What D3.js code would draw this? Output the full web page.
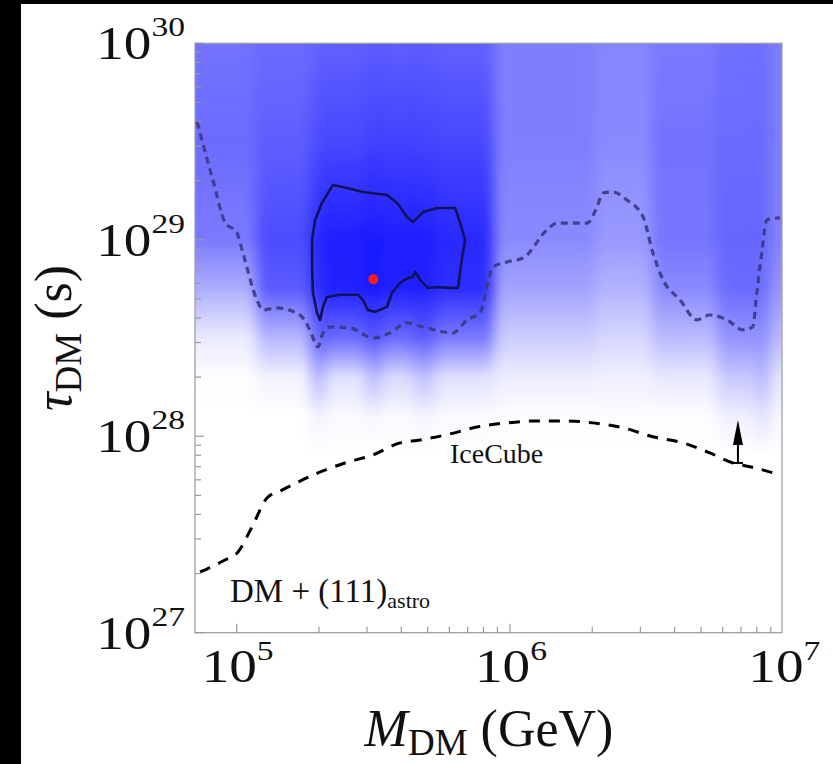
<!DOCTYPE html>
<html><head><meta charset="utf-8">
<script src="https://cdn.jsdelivr.net/npm/d3@7"></script>
<style>body{margin:0;background:#fff}svg{display:block}</style>
</head><body>
<script>
// ---------- DATA (log10 values) ----------
// heat-map mass bins, log10(M_DM / GeV)
const massBinEdgesLog = [4.846, 5.074, 5.271, 5.322, 5.475, 5.524, 5.652, 5.722, 5.938, 6.304, 6.523, 6.761, 6.907, 6.951, 7.0];
// lifetime levels, log10(tau / s)
const tauLevelsLog = [30, 29.5, 29, 28.75, 28.5, 28.3, 28.1, 27.9];
// posterior density (0..1) per mass bin at each lifetime level
const density = [
  [0.55, 0.58, 0.52, 0.32, 0.08, 0.01, 0.00, 0.00],
  [0.58, 0.63, 0.70, 0.64, 0.28, 0.05, 0.00, 0.00],
  [0.60, 0.70, 0.84, 0.82, 0.60, 0.30, 0.05, 0.00],
  [0.62, 0.72, 0.88, 0.87, 0.58, 0.12, 0.02, 0.00],
  [0.63, 0.74, 0.90, 0.90, 0.66, 0.28, 0.04, 0.00],
  [0.63, 0.74, 0.88, 0.87, 0.58, 0.15, 0.02, 0.00],
  [0.63, 0.73, 0.88, 0.87, 0.63, 0.25, 0.04, 0.00],
  [0.62, 0.72, 0.84, 0.82, 0.52, 0.12, 0.02, 0.00],
  [0.50, 0.50, 0.46, 0.36, 0.20, 0.07, 0.01, 0.00],
  [0.47, 0.46, 0.40, 0.30, 0.16, 0.06, 0.01, 0.00],
  [0.52, 0.55, 0.54, 0.46, 0.27, 0.09, 0.01, 0.00],
  [0.56, 0.58, 0.60, 0.58, 0.42, 0.22, 0.06, 0.00],
  [0.55, 0.57, 0.58, 0.56, 0.42, 0.28, 0.12, 0.00],
  [0.50, 0.50, 0.48, 0.40, 0.26, 0.10, 0.02, 0.00]
];
// dotted boundary curve
const boundMassLog = [4.855,4.913,4.957,5.001,5.023,5.074,5.096,5.147,5.232,5.268,5.297,5.316,5.341,5.415,5.499,5.561,5.623,5.682,5.792,5.843,5.890,5.938,5.989,6.048,6.135,6.172,6.282,6.318,6.340,6.377,6.428,6.487,6.523,6.560,6.622,6.684,6.731,6.794,6.852,6.888,6.903,6.921,6.940,6.988];
const boundTauLog  = [29.600,29.304,29.090,29.035,28.933,28.694,28.643,28.653,28.617,28.541,28.455,28.526,28.556,28.551,28.500,28.526,28.577,28.556,28.526,28.592,28.628,28.862,28.887,28.907,29.050,29.085,29.085,29.166,29.238,29.243,29.202,29.116,28.933,28.796,28.694,28.592,28.617,28.592,28.541,28.556,28.729,28.933,29.101,29.111];
// IceCube lower limit (dashed)
const iceMassLog = [4.866,4.957,5.005,5.056,5.111,5.166,5.232,5.297,5.396,5.499,5.598,5.671,5.781,5.879,5.989,6.099,6.209,6.304,6.414,6.523,6.633,6.731,6.816,6.896,6.988];
const iceTauLog  = [27.309,27.370,27.411,27.538,27.686,27.726,27.772,27.813,27.864,27.905,27.966,27.981,28.012,28.047,28.068,28.078,28.078,28.068,28.043,27.997,27.966,27.915,27.864,27.839,27.803];
// closed contour
const contourMassLog = [5.352,5.404,5.462,5.550,5.587,5.623,5.645,5.682,5.733,5.799,5.806,5.825,5.836,5.825,5.817,5.810,5.773,5.737,5.700,5.671,5.653,5.645,5.627,5.598,5.568,5.550,5.506,5.480,5.462,5.444,5.378,5.330,5.316,5.305,5.294,5.279,5.276,5.276,5.287,5.312];
const contourTauLog  = [29.279,29.264,29.243,29.228,29.187,29.116,29.090,29.141,29.162,29.162,29.136,29.050,29.000,28.913,28.832,28.755,28.755,28.760,28.755,28.796,28.837,28.811,28.806,28.781,28.730,28.659,28.633,28.643,28.694,28.720,28.720,28.709,28.659,28.592,28.628,28.730,28.862,29.000,29.101,29.187];
// best fit point
const bestFit = {massLog: 5.500, tauLog: 28.799};
// arrow (lower limit direction)
const arrowMassLog = 6.834;
const arrowTauLog = [27.864, 28.082];
// tick labels
const xTickExps = [5, 6, 7];
const yTickExps = [27, 28, 29, 30];

// ---------- LAYOUT ----------
const W = 833, H = 764;
const L = 195, R = 782, T = 43.3, B = 632.7;
const svg = d3.select("body").append("svg").attr("width", W).attr("height", H);
svg.append("rect").attr("width", W).attr("height", H).attr("fill", "#fff");
svg.append("rect").attr("x", 0).attr("y", 0).attr("width", 21).attr("height", H).attr("fill", "#000");
svg.append("rect").attr("x", 0).attr("y", 0).attr("width", W).attr("height", 4).attr("fill", "#000");

const x = d3.scaleLog().domain([7.04e4, 9.89e6]).range([L, R]);
const y = d3.scaleLog().domain([1e27, 1e30]).range([B, T]);
const p = v => Math.pow(10, v);

const defs = svg.append("defs");
defs.append("clipPath").attr("id", "plotClip").append("rect")
  .attr("x", L).attr("y", T).attr("width", R - L).attr("height", B - T);
const filt = defs.append("filter").attr("id", "hblur")
  .attr("filterUnits", "userSpaceOnUse")
  .attr("x", L - 60).attr("y", T - 60).attr("width", R - L + 120).attr("height", B - T + 120)
  .attr("color-interpolation-filters", "sRGB");
filt.append("feGaussianBlur").attr("stdDeviation", "6.5 2");

// gradients per mass bin
density.forEach((col, i) => {
  const g = defs.append("linearGradient").attr("id", "col" + i)
    .attr("gradientUnits", "userSpaceOnUse")
    .attr("x1", 0).attr("x2", 0).attr("y1", y(1e30)).attr("y2", y(1e27));
  col.forEach((a, j) => {
    g.append("stop")
      .attr("offset", (y(p(tauLevelsLog[j])) - y(1e30)) / (y(1e27) - y(1e30)))
      .attr("stop-color", "#0000ff").attr("stop-opacity", a);
  });
});

const nCol = density.length;
const heatOuter = svg.append("g").attr("clip-path", "url(#plotClip)");
const heat = heatOuter.append("g").attr("filter", "url(#hblur)");
heat.selectAll("rect").data(density).join("rect")
  .attr("x", (d, i) => x(p(massBinEdgesLog[i])) - (i === 0 ? 30 : 0))
  .attr("width", (d, i) => x(p(massBinEdgesLog[i + 1])) - x(p(massBinEdgesLog[i])) + 0.5 + (i === 0 ? 30 : 0) + (i === nCol - 1 ? 30 : 0))
  .attr("y", T - 30).attr("height", B - T + 30)
  .attr("fill", (d, i) => `url(#col${i})`);

// frame
svg.append("rect").attr("x", L).attr("y", T).attr("width", R - L).attr("height", B - T)
  .attr("fill", "none").attr("stroke", "#a0a0a8").attr("stroke-width", 1.3);

// ticks
const yTicks = [];
for (let e = 27; e <= 29; e++) for (let m = 1; m <= 9; m++) yTicks.push({v: m * Math.pow(10, e), major: m === 1});
yTicks.push({v: 1e30, major: true});
svg.append("g").selectAll("line").data(yTicks).join("line")
  .attr("x1", L).attr("x2", d => L + (d.major ? 9 : 6))
  .attr("y1", d => y(d.v)).attr("y2", d => y(d.v))
  .attr("stroke", "#999").attr("stroke-width", 1.2);
const xTicks = [];
for (let e = 5; e <= 6; e++) for (let m = 1; m <= 9; m++) xTicks.push({v: m * Math.pow(10, e), major: m === 1});
svg.append("g").selectAll("line").data(xTicks.filter(d => d.v <= 9.89e6)).join("line")
  .attr("x1", d => x(d.v)).attr("x2", d => x(d.v))
  .attr("y1", B).attr("y2", d => B - (d.major ? 9 : 6))
  .attr("stroke", "#999").attr("stroke-width", 1.2);

// lines
const lineGen = d3.line().x(d => x(p(d[0]))).y(d => y(p(d[1]))).curve(d3.curveMonotoneX);
const plotG = svg.append("g").attr("clip-path", "url(#plotClip)");
plotG.append("path").datum(boundMassLog.map((m, i) => [m, boundTauLog[i]]))
  .attr("d", lineGen).attr("fill", "none").attr("stroke", "#3a3a82").attr("stroke-opacity", 0.9)
  .attr("stroke-width", 3.2).attr("stroke-dasharray", "7,5");
plotG.append("path").datum(iceMassLog.map((m, i) => [m, iceTauLog[i]]))
  .attr("d", lineGen).attr("fill", "none").attr("stroke", "#000")
  .attr("stroke-width", 3).attr("stroke-dasharray", "11,9");
const contourGen = d3.line().x(d => x(p(d[0]))).y(d => y(p(d[1]))).curve(d3.curveLinearClosed);
plotG.append("path").datum(contourMassLog.map((m, i) => [m, contourTauLog[i]]))
  .attr("d", contourGen).attr("fill", "none").attr("stroke", "#12125a")
  .attr("stroke-width", 2.6).attr("stroke-linejoin", "round");
plotG.append("circle").attr("cx", x(p(bestFit.massLog))).attr("cy", y(p(bestFit.tauLog)))
  .attr("r", 5).attr("fill", "#ff1a1a");

// arrow
const ax = x(p(arrowMassLog)), ay0 = y(p(arrowTauLog[0])), ay1 = y(p(arrowTauLog[1]));
plotG.append("line").attr("x1", ax).attr("x2", ax).attr("y1", ay0).attr("y2", ay1 + 12)
  .attr("stroke", "#000").attr("stroke-width", 2);
plotG.append("line").attr("x1", ax - 5).attr("x2", ax + 5).attr("y1", ay0).attr("y2", ay0)
  .attr("stroke", "#000").attr("stroke-width", 2);
plotG.append("path").attr("d", `M${ax},${ay1} L${ax - 5},${ay1 + 25} L${ax + 5},${ay1 + 25} Z`).attr("fill", "#000");

// texts
const serif = "'Liberation Serif', 'Times New Roman', serif";
svg.append("text").attr("x", 450).attr("y", 463).attr("font-family", serif).attr("font-size", 28)
  .attr("fill", "#111").text("IceCube");
const dmt = svg.append("text").attr("x", 230).attr("y", 602).attr("font-family", serif).attr("font-size", 33).attr("fill", "#111");
dmt.append("tspan").text("DM + (111)");
dmt.append("tspan").attr("font-size", 22).attr("dy", 6).text("astro");

// y tick labels
yTickExps.forEach(e => {
  const yy = Math.max(y(p(e)) + 16, 55);
  const t = svg.append("g").attr("transform", `translate(185,${yy}) scale(1.2,1)`)
    .append("text").attr("text-anchor", "end").attr("font-family", serif).attr("font-size", 46).attr("fill", "#111");
  t.append("tspan").text("10");
  t.append("tspan").attr("font-size", 28).attr("dy", -23).text(e);
});
// x tick labels
xTickExps.forEach(e => {
  const t = svg.append("g").attr("transform", `translate(${x(p(e)) + 1},682) scale(1.2,1)`)
    .append("text").attr("text-anchor", "middle").attr("font-family", serif).attr("font-size", 46).attr("fill", "#111");
  t.append("tspan").text("10");
  t.append("tspan").attr("font-size", 28).attr("dy", -22).text(e);
});

// axis titles
const xt = svg.append("text").attr("x", 489).attr("y", 746).attr("text-anchor", "middle")
  .attr("font-family", serif).attr("font-size", 52).attr("fill", "#111");
xt.append("tspan").attr("font-style", "italic").text("M");
xt.append("tspan").attr("font-size", 37).attr("dy", 9).text("DM");
xt.append("tspan").attr("dy", -9).text(" (GeV)");

const yt = svg.append("g").attr("transform", "translate(71,338) rotate(-90)")
  .append("text").attr("text-anchor", "middle").attr("font-family", serif).attr("font-size", 52).attr("fill", "#111");
yt.append("tspan").attr("font-style", "italic").text("τ");
yt.append("tspan").attr("font-size", 37).attr("dy", 10).text("DM");
yt.append("tspan").attr("dy", -10).text(" (s)");
</script>
</body></html>
